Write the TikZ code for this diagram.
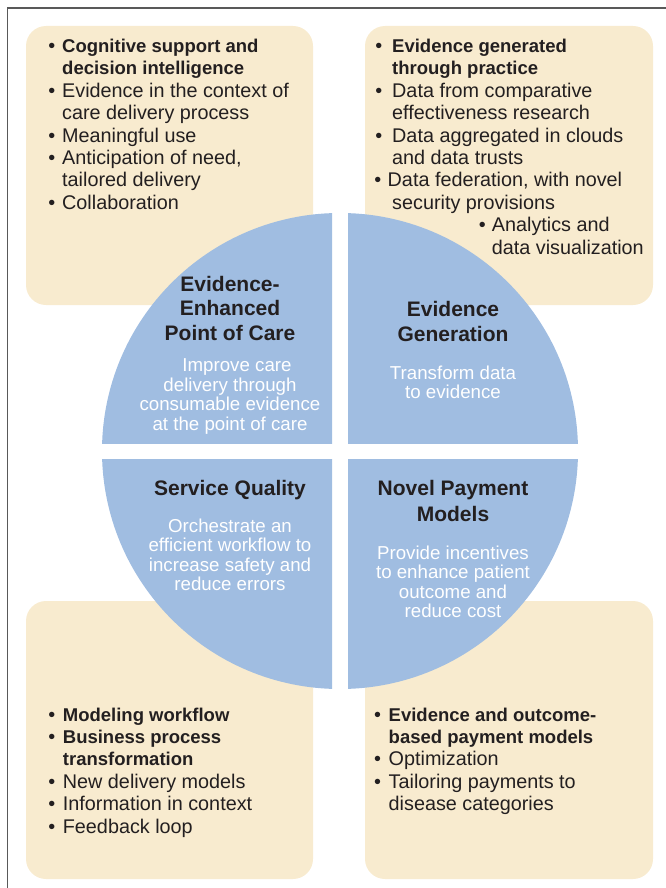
\documentclass[tikz,border=0pt]{standalone}
\usepackage{fontspec}
\setmainfont{Liberation Sans}
\definecolor{beige}{HTML}{F8EBCF}
\definecolor{quad}{HTML}{A0BDE1}
\definecolor{ink}{HTML}{231F20}
\newcommand{\itm}[2][7pt]{\hbox{\llap{•\hspace{#1}}#2}}
\newcommand{\cnt}[1]{\hbox{#1}}
\newcommand{\bt}{\fontsize{18.5}{22.4}\selectfont\bfseries}
\newcommand{\cl}[1]{\hbox to 0pt{\hss#1\hss}}
\newcommand{\lines}[2]{\vtop{\baselineskip=#1\lineskiplimit=-30pt\relax#2}}
\begin{document}
\begin{tikzpicture}[x=1pt,y=-1pt,
  box/.style={fill=beige, rounded corners=20pt},
  lst/.style={anchor=base west, inner sep=0pt, text=ink, font=\fontsize{19.8}{22.4}\selectfont},
  ttl/.style={anchor=base, inner sep=0pt, text=ink, font=\fontsize{21}{24.5}\selectfont\bfseries},
  txt/.style={anchor=base, inner sep=0pt, text=white, font=\fontsize{18.7}{19.5}\selectfont}]
\useasboundingbox (0,0) rectangle (666,888);
% frame
\draw[line width=1.5pt, black!65] (7.5,888) -- (7.5,8) -- (666,8);
% boxes
\fill[box] (26,26) rectangle (313,305);
\fill[box] (365,26) rectangle (653,305);
\fill[box] (26,601) rectangle (313,879);
\fill[box] (365,601) rectangle (653,879);
% quadrants
\coordinate (c) at (340,451);
\begin{scope}\clip (90,200) rectangle (332,443); \fill[quad] (c) circle (238); \end{scope}
\begin{scope}\clip (348,200) rectangle (590,443); \fill[quad] (c) circle (238); \end{scope}
\begin{scope}\clip (90,459) rectangle (332,700); \fill[quad] (c) circle (238); \end{scope}
\begin{scope}\clip (348,459) rectangle (590,700); \fill[quad] (c) circle (238); \end{scope}
% lists
\node[lst] (lst0) at (62,52.5) {\lines{22.4pt}{%
  \itm{\bt Cognitive support and}
  \cnt{\bt decision intelligence}
  \itm{Evidence in the context of}
  \cnt{care delivery process}
  \itm{Meaningful use}
  \itm{Anticipation of need,}
  \cnt{tailored delivery}
  \itm{Collaboration}}};
\node[lst] (lst1) at (392,52.5) {\lines{22.4pt}{%
  \itm[10pt]{\bt Evidence generated}
  \cnt{\bt through practice}
  \itm[10pt]{Data from comparative}
  \cnt{effectiveness research}
  \itm[10pt]{Data aggregated in clouds}
  \cnt{and data trusts}
  \hbox{\kern-4.5pt\llap{•\hspace{6.5pt}}Data federation, with novel}
  \cnt{security provisions}
  \hbox{\kern99.7pt\llap{•\hspace{6pt}}Analytics and}
  \hbox{\kern99.7pt data visualization}}};
\node[lst] (lst2) at (62.7,721) {\lines{22.4pt}{%
  \itm[7.6pt]{\bt Modeling workflow}
  \itm[7.6pt]{\bt Business process}
  \cnt{\bt transformation}
  \itm[7.6pt]{New delivery models}
  \itm[7.6pt]{Information in context}
  \itm[7.6pt]{Feedback loop}}};
\node[lst] (lst3) at (388.5,721) {\lines{22.4pt}{%
  \itm[7.6pt]{\bt Evidence and outcome-}
  \cnt{\bt based payment models}
  \itm[7.6pt]{Optimization}
  \itm[7.6pt]{Tailoring payments to}
  \cnt{disease categories}}};
% quadrant titles
\node[ttl] (ttl0) at (230,291) {\lines{24.5pt}{\cl{Evidence-}\cl{Enhanced}\cl{Point of Care}}};
\node[ttl] (ttl1) at (453,316) {\lines{25pt}{\cl{Evidence}\cl{Generation}}};
\node[ttl] (ttl2) at (230,495.7) {\lines{25pt}{\cl{Service Quality}}};
\node[ttl] (ttl3) at (453,495.7) {\lines{25.5pt}{\cl{Novel Payment}\cl{Models}}};
% quadrant texts
\node[txt] (txt0) at (230,371.7) {\lines{19.5pt}{\cl{\hspace*{14pt}Improve care}\cl{delivery through}\cl{consumable evidence}\cl{at the point of care}}};
\node[txt] (txt1) at (453,379) {\lines{19.5pt}{\cl{Transform data}\cl{to evidence}}};
\node[txt] (txt2) at (230,532.3) {\lines{19.4pt}{\cl{Orchestrate an}\cl{efficient workflow to}\cl{increase safety and}\cl{reduce errors}}};
\node[txt] (txt3) at (453,559.3) {\lines{19.5pt}{\cl{Provide incentives}\cl{to enhance patient}\cl{outcome and}\cl{reduce cost}}};
\end{tikzpicture}
\end{document}
